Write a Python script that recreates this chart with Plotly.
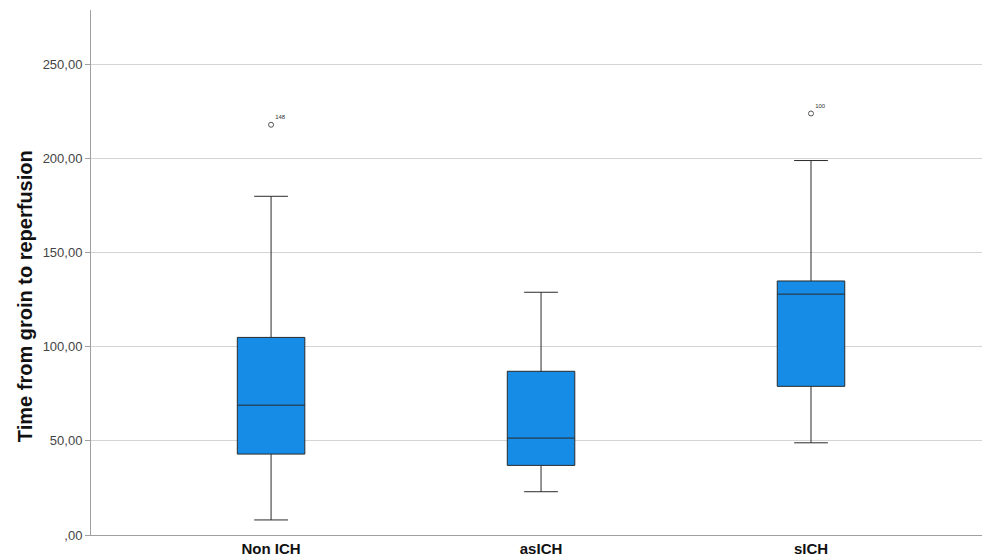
import plotly.graph_objects as go

categories = ["Non ICH", "asICH", "sICH"]
lower_whisker = [8, 23, 49]
q1_vals = [43, 37, 79]
median_vals = [69, 51.5, 128]
q3_vals = [105, 87, 135]
upper_whisker = [180, 129, 199]

outlier_cats = ["Non ICH", "sICH"]
outlier_vals = [218, 224]
outlier_labels = ["148", "100"]

y_ticks = [0, 50, 100, 150, 200, 250]
y_ticktext = [",00", "50,00", "100,00", "150,00", "200,00", "250,00"]
y_title = "Time from groin to reperfusion"

fig = go.Figure()
fig.add_trace(go.Box(
    x=categories,
    q1=q1_vals, median=median_vals, q3=q3_vals,
    lowerfence=lower_whisker, upperfence=upper_whisker,
    fillcolor="#168ce6",
    line=dict(color="#2a2a2a", width=1),
    width=0.25,
    whiskerwidth=0.5,
    boxpoints=False,
    showlegend=False,
))
fig.add_trace(go.Scatter(
    x=outlier_cats, y=outlier_vals,
    mode="markers+text",
    marker=dict(symbol="circle-open", size=5, color="#555555", line=dict(width=1)),
    text=outlier_labels,
    textposition="top right",
    textfont=dict(size=6, color="#333333", family="Arial"),
    showlegend=False,
))

fig.update_layout(
    width=982, height=548,
    margin=dict(l=83, r=0, t=2, b=21),
    plot_bgcolor="white", paper_bgcolor="white",
    font=dict(family="Liberation Sans, Arial", color="#222222"),
    annotations=[dict(
        text="<b>" + y_title + "</b>",
        textangle=-90,
        xref="paper", yref="paper",
        x=-0.0734, y=0.455,
        xanchor="center", yanchor="middle",
        showarrow=False,
        font=dict(size=20, color="#111111", family="Liberation Sans, Arial"),
    )],
)
fig.update_xaxes(
    type="category",
    range=[-0.667, 2.663],
    tickvals=categories,
    ticktext=["<b>" + c + "</b>" for c in categories],
    showline=True, linecolor="#a0a0a0", linewidth=1,
    showgrid=False, ticks="",
    tickfont=dict(size=15, color="#111111", family="Liberation Sans, Arial"),
    ticklabelstandoff=0,
)
fig.update_yaxes(
    range=[0, 279],
    tickvals=y_ticks, ticktext=y_ticktext,
    tickfont=dict(size=13, color="#444444"),
    showline=True, linecolor="#a0a0a0", linewidth=1,
    showgrid=True, gridcolor="#d4d4d4", gridwidth=1,
    ticks="outside", ticklen=5, tickcolor="#a0a0a0",
    zeroline=False,
)
fig.write_html("out.html")
